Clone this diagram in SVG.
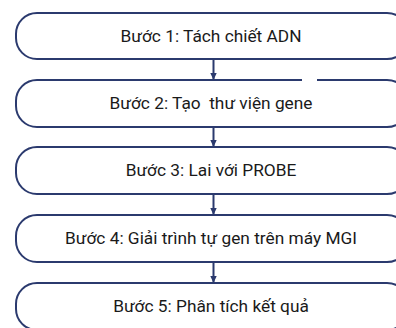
<svg xmlns="http://www.w3.org/2000/svg" width="396" height="328" viewBox="0 0 396 328">
<defs>
<marker id="ah" markerWidth="8" markerHeight="8" refX="6" refY="4" orient="auto" markerUnits="userSpaceOnUse">
<path d="M0,0.8 L7,4 L0,7.2 Z" fill="#2B3A6E"/>
</marker>
</defs>
<style>
.box{fill:#fff;stroke:#2B3A6E;stroke-width:2}
.lbl{font-family:Roboto,"Noto Sans",sans-serif;font-size:17.3px;fill:#1a1a1a;text-anchor:middle}
.con{stroke:#2B3A6E;stroke-width:2;fill:none}
</style>
<rect width="396" height="328" fill="#fff"/>
<g id="connectors">
<line class="con" x1="213.5" y1="59" x2="213.5" y2="79" marker-end="url(#ah)"/>
<line class="con" x1="213.5" y1="127" x2="213.5" y2="146" marker-end="url(#ah)"/>
<line class="con" x1="213.5" y1="194" x2="213.5" y2="214" marker-end="url(#ah)"/>
<line class="con" x1="213.5" y1="262" x2="213.5" y2="282" marker-end="url(#ah)"/>
</g>
<g id="step1">
<rect class="box" x="16" y="13" width="392" height="46" rx="21"/>
<text class="lbl" x="211" y="42">Bước 1: Tách chiết ADN</text>
</g>
<g id="step2">
<rect class="box" x="16" y="80" width="392" height="47" rx="21"/>
<line x1="302" y1="80" x2="317" y2="80" stroke="#fff" stroke-width="3"/>
<text class="lbl" x="211" y="109" xml:space="preserve">Bước 2: Tạo  thư viện gene</text>
</g>
<g id="step3">
<rect class="box" x="16" y="147" width="392" height="47" rx="21"/>
<text class="lbl" x="211" y="176">Bước 3: Lai với PROBE</text>
</g>
<g id="step4">
<rect class="box" x="16" y="215" width="392" height="47" rx="21"/>
<text class="lbl" x="211" y="244">Bước 4: Giải trình tự gen trên máy MGI</text>
</g>
<g id="step5">
<rect class="box" x="16" y="283" width="392" height="47" rx="21"/>
<text class="lbl" x="211" y="312">Bước 5: Phân tích kết quả</text>
</g>
</svg>
